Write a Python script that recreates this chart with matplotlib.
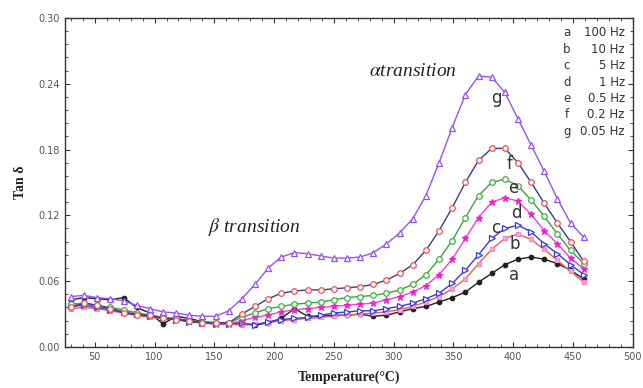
import matplotlib
matplotlib.use("Agg")
import matplotlib.pyplot as plt
from matplotlib.ticker import MultipleLocator, FormatStrFormatter

plt.rcParams["mathtext.fontset"] = "stix"

temperature = [30, 41, 52, 63, 74, 85, 96, 107, 118, 129, 140, 151, 162, 173, 184, 195, 206, 217, 228, 239,
               250, 261, 272, 283, 294, 305, 316, 327, 338, 349, 360, 371, 382, 393, 404, 415, 426, 437, 448, 459]

tan_a = [0.043, 0.045, 0.044, 0.043, 0.045, 0.036, 0.031, 0.021, 0.028, 0.026, 0.023, 0.022, 0.022, 0.021, 0.020, 0.022, 0.026, 0.035, 0.028, 0.028,
         0.029, 0.029, 0.030, 0.028, 0.029, 0.032, 0.035, 0.037, 0.041, 0.045, 0.050, 0.059, 0.067, 0.075, 0.080, 0.082, 0.080, 0.076, 0.070, 0.062]
tan_b = [0.035, 0.036, 0.035, 0.033, 0.031, 0.029, 0.027, 0.026, 0.025, 0.023, 0.022, 0.021, 0.021, 0.020, 0.021, 0.022, 0.024, 0.025, 0.026, 0.027,
         0.028, 0.029, 0.030, 0.031, 0.032, 0.034, 0.037, 0.041, 0.046, 0.053, 0.062, 0.076, 0.089, 0.099, 0.103, 0.098, 0.089, 0.079, 0.069, 0.059]
tan_c = [0.037, 0.038, 0.036, 0.034, 0.032, 0.030, 0.028, 0.027, 0.025, 0.023, 0.022, 0.021, 0.021, 0.022, 0.020, 0.023, 0.025, 0.026, 0.027, 0.029,
         0.031, 0.032, 0.033, 0.033, 0.035, 0.037, 0.040, 0.044, 0.049, 0.058, 0.070, 0.084, 0.099, 0.108, 0.111, 0.105, 0.094, 0.085, 0.075, 0.066]
tan_d = [0.038, 0.039, 0.037, 0.035, 0.033, 0.031, 0.029, 0.027, 0.026, 0.024, 0.022, 0.021, 0.021, 0.024, 0.027, 0.029, 0.032, 0.034, 0.035, 0.036,
         0.037, 0.038, 0.039, 0.040, 0.043, 0.046, 0.050, 0.056, 0.066, 0.080, 0.099, 0.118, 0.132, 0.136, 0.133, 0.121, 0.106, 0.094, 0.081, 0.071]
tan_e = [0.039, 0.040, 0.038, 0.036, 0.034, 0.031, 0.029, 0.027, 0.026, 0.024, 0.023, 0.022, 0.022, 0.027, 0.031, 0.035, 0.037, 0.039, 0.040, 0.041,
         0.043, 0.045, 0.046, 0.047, 0.049, 0.052, 0.057, 0.066, 0.080, 0.097, 0.118, 0.138, 0.150, 0.153, 0.147, 0.134, 0.119, 0.103, 0.088, 0.076]
tan_f = [0.036, 0.040, 0.038, 0.035, 0.031, 0.029, 0.029, 0.026, 0.025, 0.024, 0.022, 0.022, 0.022, 0.030, 0.037, 0.044, 0.049, 0.051, 0.052, 0.052,
         0.053, 0.054, 0.055, 0.057, 0.061, 0.067, 0.075, 0.088, 0.106, 0.127, 0.150, 0.170, 0.181, 0.181, 0.168, 0.150, 0.131, 0.113, 0.096, 0.078]
tan_g = [0.046, 0.047, 0.045, 0.044, 0.042, 0.038, 0.035, 0.032, 0.031, 0.029, 0.028, 0.028, 0.033, 0.044, 0.057, 0.072, 0.082, 0.086, 0.085, 0.083,
         0.081, 0.081, 0.082, 0.086, 0.094, 0.104, 0.117, 0.138, 0.168, 0.200, 0.230, 0.247, 0.246, 0.232, 0.208, 0.184, 0.160, 0.135, 0.113, 0.100]

curve_letters = ["a", "b", "c", "d", "e", "f", "g"]
frequencies = ["100 Hz", "10 Hz", "5 Hz", "1 Hz", "0.5 Hz", "0.2 Hz", "0.05 Hz"]

fig = plt.figure(figsize=(6.43, 3.88), dpi=100)
ax = fig.add_axes([0.101, 0.1057, 0.883, 0.8483])

styles = [
    dict(color="#202020", marker="o", ms=3.2, mfc="#202020", mec="#202020"),
    dict(color="#e8604a", marker="s", ms=3.0, mfc="#f4a6d8", mec="#f08ac8"),
    dict(color="#3a3ae0", marker=">", ms=4.0, mfc="white", mec="#3a3ae0"),
    dict(color="#f040e0", marker="*", ms=4.5, mfc="#f020d0", mec="#f020d0"),
    dict(color="#40a040", marker="o", ms=4.0, mfc="white", mec="#40b040"),
    dict(color="#3a3a8a", marker="o", ms=4.0, mfc="white", mec="#f05050"),
    dict(color="#9a50f0", marker="^", ms=4.2, mfc="white", mec="#9a50f0"),
]
series = [tan_a, tan_b, tan_c, tan_d, tan_e, tan_f, tan_g]
for vals, st in zip(series, styles):
    ax.plot(temperature, vals, lw=1.0, mew=0.9, **st)

ax.set_xlim(25, 500)
ax.set_ylim(0.0, 0.30)
ax.xaxis.set_major_locator(MultipleLocator(50))
ax.xaxis.set_minor_locator(MultipleLocator(10))
ax.yaxis.set_major_locator(MultipleLocator(0.06))
ax.yaxis.set_minor_locator(MultipleLocator(0.012))
ax.yaxis.set_major_formatter(FormatStrFormatter("%.2f"))
ax.set_xticks([50, 100, 150, 200, 250, 300, 350, 400, 450, 500])
ax.tick_params(which="both", direction="in", top=True, right=True, labelsize=7, labelcolor="#555555", color="#333333")
ax.tick_params(which="major", length=3.5, width=0.8)
ax.tick_params(which="minor", length=2, width=0.6)
for sp in ax.spines.values():
    sp.set_linewidth(1.0)
    sp.set_color("#333333")

ax.set_xlabel("Temperature(°C)", family="Liberation Serif", fontweight="bold", fontsize=10, color="#222222", labelpad=6)
ax.set_ylabel("Tan δ", family="Liberation Serif", fontweight="bold", fontsize=10, color="#222222", labelpad=8)

# frequency key
for i, (letter, fr) in enumerate(zip(curve_letters, frequencies)):
    y = 0.2865 - i * 0.0150
    ax.text(0.884, y, letter, transform=ax.get_yaxis_transform(), ha="center", va="center", fontsize=8.5, color="#333333")
    ax.text(0.986, y, fr, transform=ax.get_yaxis_transform(), ha="right", va="center", fontsize=8.5, color="#333333")

# curve labels
label_pos = {"a": (401, 0.066), "b": (401, 0.094), "c": (385, 0.108), "d": (403, 0.122), "e": (400, 0.145), "f": (397, 0.167), "g": (386, 0.227)}
for letter in curve_letters:
    x, y = label_pos[letter]
    ax.text(x, y, letter, ha="center", va="center", fontsize=12, color="#333333")

ax.text(279, 0.251, r"$\alpha$" + "transition", family="Liberation Serif", style="italic", fontsize=14, color="#222222", va="center")
ax.text(145, 0.109, r"$\beta$ transition", family="Liberation Serif", style="italic", fontsize=14, color="#222222", va="center")

fig.savefig("out.png", dpi=100)
